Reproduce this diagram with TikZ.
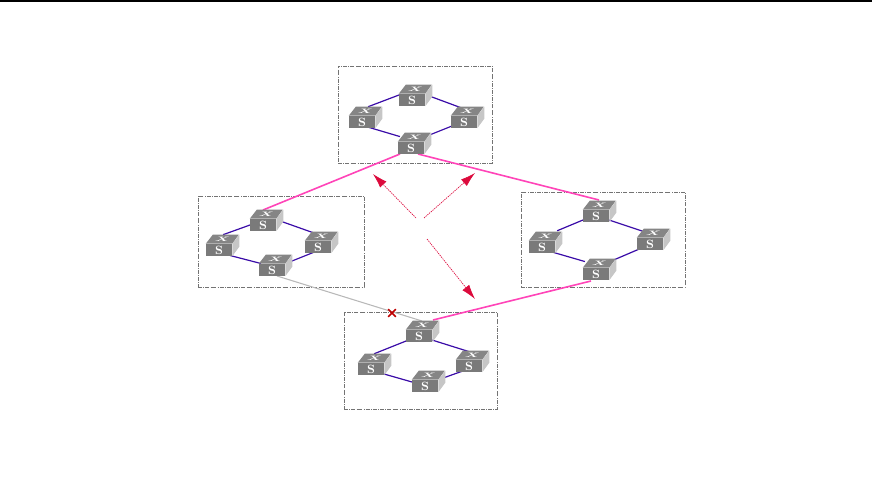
\documentclass[tikz,border=0pt]{standalone}
\usepackage{amsmath,amssymb}
\usetikzlibrary{arrows.meta,positioning,fit,backgrounds,calc,shapes.misc}
\definecolor{swfront}{HTML}{7A7A7A}
\definecolor{swtop}{HTML}{858585}
\definecolor{swside}{HTML}{C6C6C6}
\definecolor{ringblue}{HTML}{3A0CA8}
\definecolor{hotlink}{HTML}{FF44B8}
\definecolor{crimsonhead}{HTML}{DC0A3C}
\tikzset{
  front/.style = {fill=swfront, inner sep=0pt, minimum width=19.5pt, minimum height=9pt,
                  text=white, font=\fontsize{9}{9}\selectfont\bfseries},
  topmark/.style = {inner sep=0pt, text=white, transform shape, xslant=0.7, xscale=1.5, yscale=0.8,
                  font=\fontsize{6}{6}\selectfont\bfseries},
  grp/.style  = {draw=black!55, densely dash dot, line width=0.4pt, inner sep=0pt},
  ring/.style = {draw=ringblue, line width=0.9pt, shorten <=-1.5pt, shorten >=-1.5pt},
  trunk/.style = {draw=hotlink, line width=1.2pt},
  blocked/.style = {draw=black!28, line width=0.8pt},
  cut/.style  = {cross out, draw=red!75!black, line width=1.2pt, inner sep=0pt,
                 minimum size=4.5pt},
  flow/.style = {-{Latex[length=11pt,width=6.5pt]}, draw=crimsonhead!38,
                 dash pattern=on 1pt off 0.7pt, line width=0.5pt, color=crimsonhead}
}
% one switch: front face, lid, side and the two letters
\newcommand{\switch}[3]{
  \node[front] (#1) at (#2,#3) {S};
  \fill[swtop] (#1.north west) -- ++(7,-9) -- ++(26,0) -- (#1.north east) -- cycle;
  \fill[swside] (#1.north east) -- ++(7,-9) -- ++(0,12) -- (#1.south east) -- cycle;
  \coordinate (#1t) at ($(#1.north)+(3.5,-4.5)$);
  \node[topmark] (#1x) at (#1t) {X};
}
\newcommand{\ringlink}[4]{
  \draw[ring] ([shift={(#2)}]#1.center) -- ([shift={(#4)}]#3.center);
}
\begin{document}
\begin{tikzpicture}[x=0.75pt,y=-0.75pt]
  \useasboundingbox (0,0) rectangle (872,496);
  \fill[black] (0,0) rectangle (872,2);

  % top ring
  \switch{ta}{412}{100}
  \switch{tb}{362}{122}
  \switch{tc}{464}{122}
  \switch{td}{411}{148}
  % left ring
  \switch{la}{263}{225}
  \switch{lb}{219}{250}
  \switch{lc}{318}{247}
  \switch{ld}{272}{270}
  % right ring
  \switch{ra}{596}{216}
  \switch{rb}{542}{247}
  \switch{rc}{650}{244}
  \switch{rd}{596}{274}
  % bottom ring
  \switch{ba}{419}{336}
  \switch{bb}{371}{369}
  \switch{bc}{469}{366}
  \switch{bd}{425}{386}

  \coordinate (c1) at (416,218);
  \coordinate (c2) at (424,218);
  \coordinate (c3) at (427,239);
  \coordinate (h1) at (373,174);
  \coordinate (h2) at (475,173);
  \coordinate (h3) at (475,299);
  \draw[flow] (c1) -- (h1);
  \draw[flow] (c2) -- (h2);
  \draw[flow] (c3) -- (h3);

  \begin{scope}[on background layer]
    \node[grp, fit={(338,66) (492,163)}] (topbox) {};
    \node[grp, fit={(198,196) (364,287)}] (leftbox) {};
    \node[grp, fit={(521,192) (685,287)}] (rightbox) {};
    \node[grp, fit={(344,312) (497,409)}] (botbox) {};

    \ringlink{tb}{8,-16}{ta}{-13,-5}
    \ringlink{ta}{20,-3}{tc}{-5,-15}
    \ringlink{tb}{9,6}{td}{-13,-12}
    \ringlink{td}{21,-14}{tc}{-12,4}

    \ringlink{lb}{6,-16}{la}{-13,0}
    \ringlink{la}{20,-3}{lc}{-4,-14}
    \ringlink{lb}{13,6}{ld}{-13,-7}
    \ringlink{ld}{20,-9}{lc}{-6,6}

    \ringlink{rb}{17,-17}{ra}{-13,4}
    \ringlink{ra}{13,4}{rc}{-8,-13}
    \ringlink{rb}{10,5}{rd}{-13,-13}
    \ringlink{rd}{20,-15}{rc}{-13,6}

    \ringlink{bb}{5,-16}{ba}{-13,5}
    \ringlink{ba}{13,4}{bc}{-2,-15}
    \ringlink{bb}{13,5}{bd}{-13,-4}
    \ringlink{bd}{21,-9}{bc}{-9,6}

    \draw[trunk] ([shift={(-11,6)}]td.center) -- ([shift={(0,-15)}]la.center);
    \draw[trunk] ([shift={(7,6)}]td.center) -- ([shift={(3,-16)}]ra.center);
    \draw[trunk] ([shift={(-5,7)}]rd.center) -- ([shift={(14,-16)}]ba.center);
    \draw[blocked] ([shift={(5,6)}]ld.center) -- ([shift={(3,-15)}]ba.center);
  \end{scope}
  \node[cut] (brk) at (392,313) {};
\end{tikzpicture}
\end{document}
